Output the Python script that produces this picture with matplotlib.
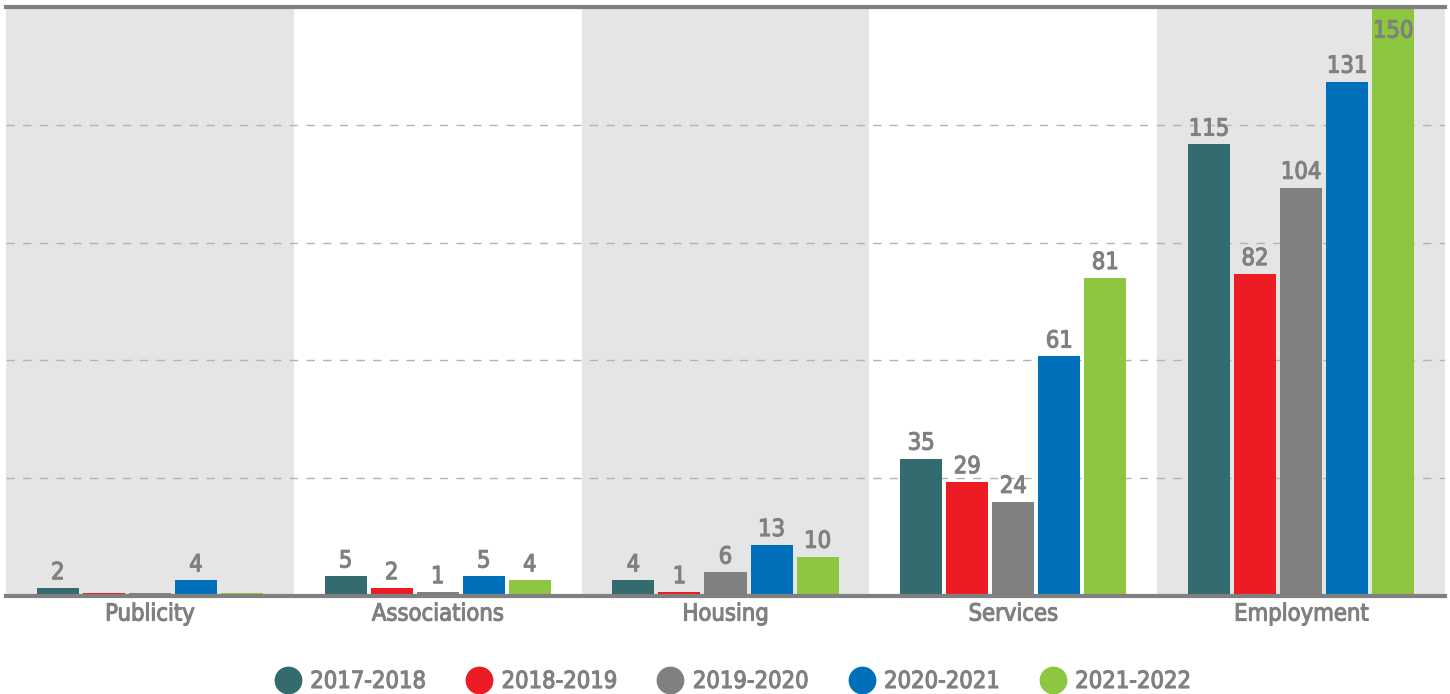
import numpy as np
import matplotlib
matplotlib.use("Agg")
from matplotlib import pyplot as plt
from matplotlib.lines import Line2D
import matplotlib.patheffects as pe

# data
categories = ["Publicity", "Associations", "Housing", "Services", "Employment"]
seasons = ["2017-2018", "2018-2019", "2019-2020", "2020-2021", "2021-2022"]
v_2017 = [2, 5, 4, 35, 115]
v_2018 = [0, 2, 1, 29, 82]
v_2019 = [0, 1, 6, 24, 104]
v_2020 = [4, 5, 13, 61, 131]
v_2021 = [0, 4, 10, 81, 150]
series = [v_2017, v_2018, v_2019, v_2020, v_2021]
colors = ["#336B6E", "#ED1C24", "#808080", "#0070BA", "#8DC63F"]

plt.rcParams["font.family"] = ["DejaVu Sans"]
plt.rcParams["font.stretch"] = "condensed"
txt = "#808080"
fs = 17
heavy = [pe.withStroke(linewidth=0.8, foreground=txt)]

f = plt.figure(figsize=(14.5, 6.94), dpi=100)
ax = f.add_axes([6 / 1450, 1 - 596 / 694, 1439 / 1450, 589 / 694])

n = len(categories)
x = np.arange(n)
ymax = 150
ax.set_xlim(-0.5, n - 0.5)
ax.set_ylim(0, ymax)

# alternating background bands
for i in range(n):
    if i % 2 == 0:
        ax.axvspan(i - 0.5, i + 0.5, color="#E5E5E5", zorder=0, lw=0)

# dashed grid
for g in [30, 60, 90, 120]:
    ax.axhline(g, color="#B3B3B3", lw=1, ls=(0, (6, 6)), zorder=1)

step = 0.16
width = 0.146
for k, vals in enumerate(series):
    pos = x + (k - 2) * step
    hs = [v if v > 0 else 0.7 for v in vals]
    ax.bar(pos, hs, width, color=colors[k], zorder=2)
    for p, v in zip(pos, vals):
        if v == 0:
            continue
        if v < ymax - 8:
            ax.text(p, v + 1, str(v), ha="center", va="bottom",
                    color=txt, fontsize=fs, zorder=3, path_effects=heavy)
        else:
            ax.text(p, ymax - 6, str(v), ha="center", va="center",
                    color=txt, fontsize=fs, zorder=3, path_effects=heavy)

ax.set_yticks([])
ax.set_xticks(x)
ax.set_xticklabels(categories, fontsize=fs, color=txt, path_effects=heavy)
ax.tick_params(axis="x", length=0, pad=4)
for s in ["left", "right"]:
    ax.spines[s].set_visible(False)
ax.spines["bottom"].set_color("#808080")
ax.spines["bottom"].set_linewidth(3)
ax.spines["top"].set_color("#808080")
ax.spines["top"].set_linewidth(3)

handles = [Line2D([], [], marker="o", ls="", markersize=19, color=c) for c in colors]
leg = f.legend(handles, seasons, loc="center", bbox_to_anchor=(0.505, 1 - 681 / 694), ncol=5,
               frameon=False, labelcolor=txt, handletextpad=0.35, columnspacing=1.65,
               handlelength=1.2, prop={"size": fs, "stretch": "condensed"})
for t in leg.get_texts():
    t.set_path_effects(heavy)

f.savefig("out.png", dpi=100)
